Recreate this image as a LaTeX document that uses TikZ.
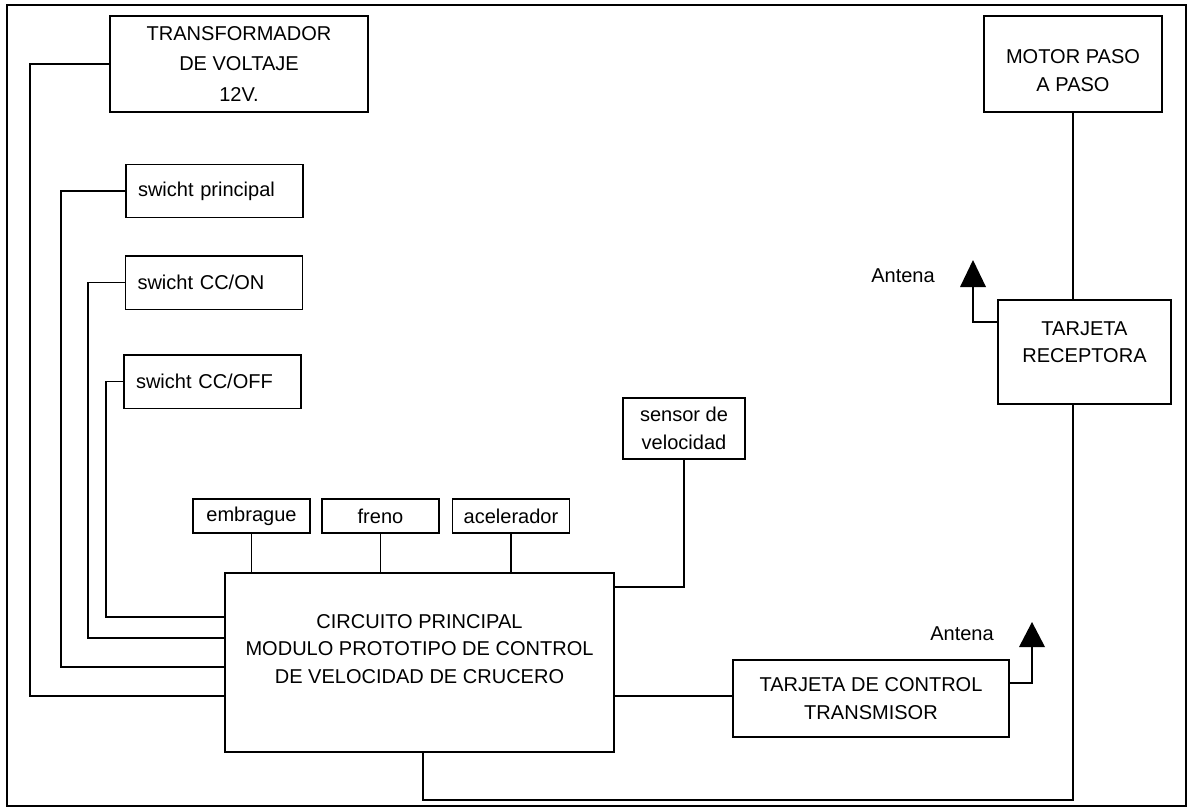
\documentclass[tikz,border=0pt]{standalone}
\usepackage{fontspec}
\setmainfont{Liberation Sans}
\usetikzlibrary{positioning}

\tikzset{
  caja/.style={draw, line width=0.85pt, align=center, inner sep=0pt},
  swbox/.style={caja, align=left, inner xsep=0.24cm, text width=3.06cm, minimum height=1.07cm},
  peqbox/.style={caja, minimum width=2.34cm, minimum height=0.68cm},
  cable/.style={line width=0.85pt},
}

\begin{document}
\begin{tikzpicture}[x=0.02cm, y=-0.02cm, font=\fontsize{11.4}{15.6}\selectfont]
    \useasboundingbox (0,0) rectangle (1188,809);
    % marco
    \draw[line width=1.4pt] (7,5) rectangle (1186,806);

    % alimentacion y switches
    \node[caja, minimum width=5.16cm, minimum height=1.92cm] (trafo) at (239,64) {TRANSFORMADOR\\[2pt]DE VOLTAJE\\[2pt]12V.};
    \node[swbox] (swp) at (214.5,191) {swicht principal};
    \node[swbox] (swon) at (214,282.5) {swicht CC/ON};
    \node[swbox] (swoff) at (212.5,381.5) {swicht CC/OFF};

    % pedales y sensor
    \node[peqbox] (embr) at (251.5,516) {embrague};
    \node[peqbox] (freno) at (380.5,516) {freno};
    \node[peqbox] (acel) at (511,516) {acelerador};
    \node[caja, minimum width=2.44cm, minimum height=1.22cm] (sensor) at (684,428.5) {sensor de\\velocidad};

    % circuito principal
    \node[caja, minimum width=7.78cm, minimum height=3.58cm] (main) at (419.5,662.5)
        {CIRCUITO PRINCIPAL\\MODULO PROTOTIPO DE CONTROL\\DE VELOCIDAD DE CRUCERO\hspace*{0.4cm}\\\mbox{}};

    % transmisor y receptor
    \node[caja, minimum width=5.52cm, minimum height=1.54cm] (tx) at (871,698.5) {TARJETA DE CONTROL\\TRANSMISOR};
    \node[caja, minimum width=3.46cm, minimum height=2.08cm] (rx) at (1084.5,352) {TARJETA\\RECEPTORA\\[-4pt]\mbox{}};
    \node[caja, minimum width=3.56cm, minimum height=1.92cm] (motor) at (1073,64) {\mbox{}\\MOTOR PASO\\A PASO};

    % antenas
    \coordinate (anttx) at (1032,647);
    \coordinate (antrx) at (973,287);
    \node (lbltx) at (962,634) {Antena};
    \node (lblrx) at (903,276) {Antena};
    \fill (anttx) ++(-13,0) -- ++(26,0) -- ++(-13,-25) -- cycle;
    \fill (antrx) ++(-13,0) -- ++(26,0) -- ++(-13,-27) -- cycle;

    % cables izquierda
    \draw[cable] (trafo.west) -| (30,696) -- (main.west |- 0,696);
    \draw[cable] (swp.west) -| (61,667) -- (main.west |- 0,667);
    \draw[cable] (swon.west) -| (88,638) -- (main.west |- 0,638);
    \draw[cable] (swoff.west) -| (106,617) -- (main.west |- 0,617);

    % cables arriba
    \foreach \n in {embr, freno, acel}
        \draw[cable] (\n.south) -- (\n.south |- main.north);
    \draw[cable] (sensor.south) |- (main.east |- 0,587);

    % cables derecha
    \draw[cable] (main.east |- 0,696) -- (tx.west |- 0,696);
    \draw[cable] (tx.east |- 0,683) -| (anttx);
    \draw[cable] (rx.west |- 0,322) -| (antrx);
    \draw[cable] (motor.south) -- (motor.south |- rx.north);
    \draw[cable] (rx.south -| motor.south) -- (motor.south |- 0,800) -| (423,0 |- main.south);
\end{tikzpicture}
\end{document}
